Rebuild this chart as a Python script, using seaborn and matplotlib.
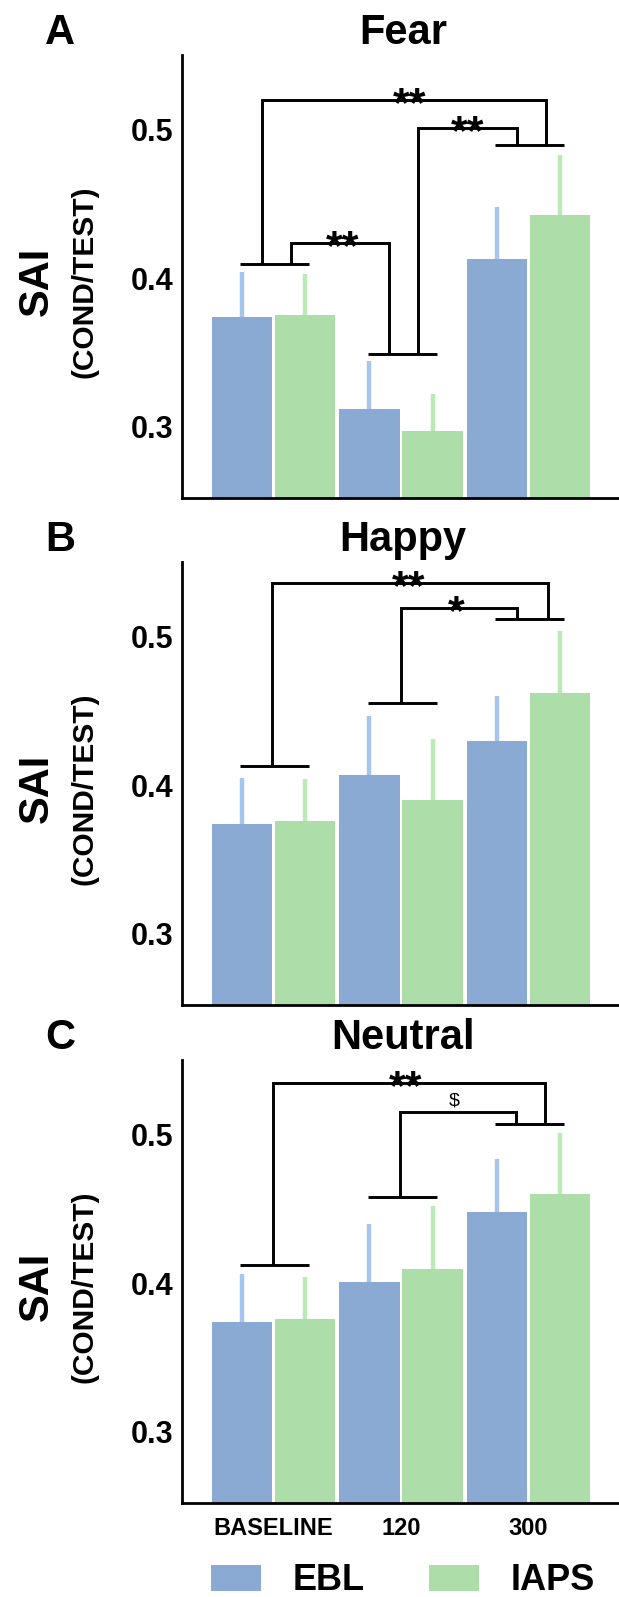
import numpy as np
import pandas as pd
import matplotlib
matplotlib.use("Agg")
import matplotlib.pyplot as plt
import seaborn as sns
from matplotlib.patches import Patch

sns.set_style("white")
plt.rcParams['font.family'] = ['Liberation Sans', 'DejaVu Sans']
plt.rcParams['font.weight'] = 'bold'
plt.rcParams['text.color'] = 'black'
plt.rcParams['xtick.color'] = 'black'
plt.rcParams['ytick.color'] = 'black'
plt.rcParams['axes.labelcolor'] = 'black'

# ---------------- data ----------------
timepoints = ['BASELINE', '120', '300']
conditions = ['EBL', 'IAPS']

fear_ebl = [0.374, 0.312, 0.413]
fear_iaps = [0.375, 0.297, 0.443]
fear_ebl_sem = [0.030, 0.032, 0.035]
fear_iaps_sem = [0.028, 0.025, 0.040]

happy_ebl = [0.374, 0.407, 0.430]
happy_iaps = [0.376, 0.390, 0.462]
happy_ebl_sem = [0.031, 0.040, 0.030]
happy_iaps_sem = [0.028, 0.041, 0.042]

neutral_ebl = [0.374, 0.401, 0.448]
neutral_iaps = [0.376, 0.410, 0.460]
neutral_ebl_sem = [0.032, 0.039, 0.036]
neutral_iaps_sem = [0.028, 0.042, 0.041]

panel_titles = ['Fear', 'Happy', 'Neutral']
panel_letters = ['A', 'B', 'C']

# significance annotations
fear_group_y = [0.410, 0.349, 0.490]
fear_pairs = [(0, 2), (0, 1), (1, 2)]
fear_legs = [(-0.09, 2.14), (0.14, 0.91), (1.135, 1.91)]
fear_tops = [0.520, 0.4235, 0.501]
fear_labels = ['**', '**', '**']
fear_label_x = [1.07, 0.54, 1.52]

happy_group_y = [0.4131, 0.4554, 0.5124]
happy_pairs = [(0, 2), (1, 2)]
happy_legs = [(-0.01, 2.15), (1.0, 1.91)]
happy_tops = [0.5362, 0.5196]
happy_labels = ['**', '*']
happy_label_x = [1.06, 1.43]

neutral_group_y = [0.4127, 0.4582, 0.5072]
neutral_pairs = [(0, 2), (1, 2)]
neutral_legs = [(0.0, 2.13), (0.99, 1.90)]
neutral_tops = [0.5347, 0.5156]
neutral_labels = ['**', '$']
neutral_label_x = [1.04, 1.42]

# ---------------- style ----------------
bar_colors = {'EBL': '#8BAAD3', 'IAPS': '#ADDEA9'}
err_colors = ['#A6C5EE', '#BBEAB7']

W, H = 619, 1597
fig = plt.figure(figsize=(W / 100, H / 100), dpi=100)

axes_px = [(55, 498), (562, 1005), (1060, 1503)]  # top, bottom in px
left_px = 182

panels = [
    (fear_ebl, fear_iaps, fear_ebl_sem, fear_iaps_sem,
     fear_group_y, fear_pairs, fear_legs, fear_tops, fear_labels, fear_label_x),
    (happy_ebl, happy_iaps, happy_ebl_sem, happy_iaps_sem,
     happy_group_y, happy_pairs, happy_legs, happy_tops, happy_labels, happy_label_x),
    (neutral_ebl, neutral_iaps, neutral_ebl_sem, neutral_iaps_sem,
     neutral_group_y, neutral_pairs, neutral_legs, neutral_tops, neutral_labels, neutral_label_x),
]

for i, (ebl, iaps, ebl_sem, iaps_sem, gy, pairs, legs, tops, labels, lx) in enumerate(panels):
    top, bot = axes_px[i]
    ax = fig.add_axes([left_px / W, 1 - bot / H, (W - left_px) / W, (bot - top) / H])
    df = pd.DataFrame({
        'time': timepoints * 2,
        'cond': [conditions[0]] * 3 + [conditions[1]] * 3,
        'sai': list(ebl) + list(iaps),
    })
    sns.barplot(data=df, x='time', y='sai', hue='cond', order=timepoints,
                hue_order=conditions, palette=bar_colors, width=0.99, gap=0.045,
                errorbar=None, legend=False, saturation=1, ax=ax, linewidth=0)
    # one-sided error bars
    for cont, sems, ec in zip(ax.containers, [ebl_sem, iaps_sem], err_colors):
        for bar, s in zip(cont, sems):
            x = bar.get_x() + bar.get_width() / 2
            h = bar.get_y() + bar.get_height()
            ax.vlines(x, h, h + s, color=ec, lw=3.2, zorder=3)
    # group lines
    for g, y in enumerate(gy):
        ax.plot([g - 0.26, g + 0.28], [y, y], color='black', lw=2.1,
                solid_capstyle='butt', clip_on=False, zorder=4)
    # brackets
    for (ga, gb), (xl, xr), yt, lab, x_lab in zip(pairs, legs, tops, labels, lx):
        ax.plot([xl, xl, xr, xr], [gy[ga], yt, yt, gy[gb]], color='black', lw=2.1,
                solid_joinstyle='miter', solid_capstyle='butt', clip_on=False, zorder=4)
        if lab == '$':
            ax.annotate(lab, xy=(x_lab, yt), xytext=(0, 2), textcoords='offset points',
                        ha='center', va='bottom', fontsize=14, fontweight='normal')
        else:
            ax.annotate(lab, xy=(x_lab, yt), xytext=(0, -11.5), textcoords='offset points',
                        ha='center', va='baseline', fontsize=31, fontweight='bold')

    ax.set_ylim(0.252, 0.5505)
    ax.set_xlim(-0.717, 2.71)
    ax.set_yticks([0.3, 0.4, 0.5])
    ax.set_yticklabels(['0.3', '0.4', '0.5'])
    ax.tick_params(axis='y', length=0, pad=6.5, labelsize=22)
    ax.set_xlabel('')
    ax.set_ylabel('')
    for s in ['top', 'right']:
        ax.spines[s].set_visible(False)
    for s in ['left', 'bottom']:
        ax.spines[s].set_linewidth(2.0)
        ax.spines[s].set_color('black')
    if i < 2:
        ax.tick_params(axis='x', length=0, labelbottom=False)
    else:
        ax.tick_params(axis='x', length=0, pad=10, labelsize=17)

    # title and panel letter
    fig.text(403 / W, 1 - (top - 11) / H, panel_titles[i], ha='center', va='baseline',
             fontsize=30, fontweight='bold')
    fig.text(60 / W, 1 - (top - 11) / H, panel_letters[i], ha='center', va='baseline',
             fontsize=30, fontweight='bold')
    # y labels
    cy = 1 - ((top + bot) / 2 + 5) / H
    fig.text(37 / W, cy, 'SAI', rotation=90, ha='center', va='center',
             fontsize=30, fontweight='bold')
    fig.text(85 / W, cy, '(COND/TEST)', rotation=90, ha='center', va='center',
             fontsize=21.5, fontweight='bold')

handles = [Patch(facecolor=bar_colors[c], edgecolor='none', label=c) for c in conditions]
fig.legend(handles=handles, loc='center left', bbox_to_anchor=(211 / W, 1 - 1581 / H),
           ncol=2, frameon=False, prop={'weight': 'bold', 'size': 26},
           handlelength=1.39, handleheight=0.7, handletextpad=0.86, columnspacing=1.8,
           borderpad=0, borderaxespad=0)

fig.savefig('out.png', dpi=100)
